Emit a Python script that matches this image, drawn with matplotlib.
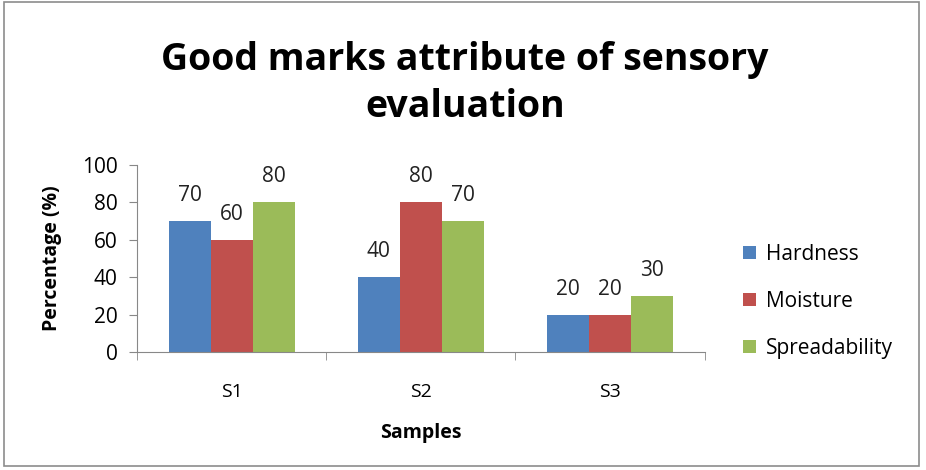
import matplotlib
matplotlib.use("Agg")
import matplotlib.pyplot as plt
import numpy as np
from matplotlib.patches import Rectangle

plt.rcParams['font.family'] = ['Open Sans', 'DejaVu Sans']

samples = ["S1", "S2", "S3"]
series_names = ["Hardness", "Moisture", "Spreadability"]
hardness = [70, 40, 20]
moisture = [60, 80, 20]
spreadability = [80, 70, 30]
colors = ["#4F81BD", "#C0504D", "#9BBB59"]
y_ticks = [0, 20, 40, 60, 80, 100]

fig = plt.figure(figsize=(9.26, 4.70), dpi=100)
fig.patches.append(Rectangle((0.004, 0.008), 0.988, 0.988, transform=fig.transFigure,
                             fill=False, edgecolor="#8c8c8c", linewidth=1.2))

ax = fig.add_axes([0.148, 0.251, 0.613, 0.398])
x = np.arange(len(samples))
width = 0.222
for i, (name, vals) in enumerate(zip(series_names, [hardness, moisture, spreadability])):
    pos = x + (i - 1) * width
    bars = ax.bar(pos, vals, width, color=colors[i], label=name)
    for b, v in zip(bars, vals):
        ax.text(b.get_x() + b.get_width() / 2, v + 8, str(v), ha="center", va="bottom",
                fontsize=15, color="#222222")

ax.set_xlim(-0.5, 2.5)
ax.set_ylim(0, 100)
ax.set_yticks(y_ticks)
ax.set_yticklabels([str(t) for t in y_ticks], fontsize=15)
ax.set_xticks(x)
ax.set_xticklabels(samples, fontsize=14)
ax.tick_params(axis="x", length=0, pad=22)
ax.set_xticks([-0.5, 0.5, 1.5, 2.5], minor=True)
ax.tick_params(axis="x", which="minor", length=6, color="#888888", direction="out")
ax.tick_params(axis="y", length=6, color="#888888", pad=8)
for s in ["top", "right"]:
    ax.spines[s].set_visible(False)
for s in ["left", "bottom"]:
    ax.spines[s].set_color("#888888")

ax.set_ylabel("Percentage (%)", fontsize=14, fontweight="bold", labelpad=14)
ax.set_xlabel("Samples", fontsize=14, fontweight="bold", labelpad=16)

fig.text(0.502, 0.822, "Good marks attribute of sensory\nevaluation", ha="center", va="center",
         fontsize=27, fontweight="bold", linespacing=1.3)

ax.legend(loc="center left", bbox_to_anchor=(1.035, 0.27), frameon=False, fontsize=15,
          handlelength=0.6, handleheight=0.6, labelspacing=1.25, handletextpad=0.5)

fig.savefig("out.png", dpi=100)
